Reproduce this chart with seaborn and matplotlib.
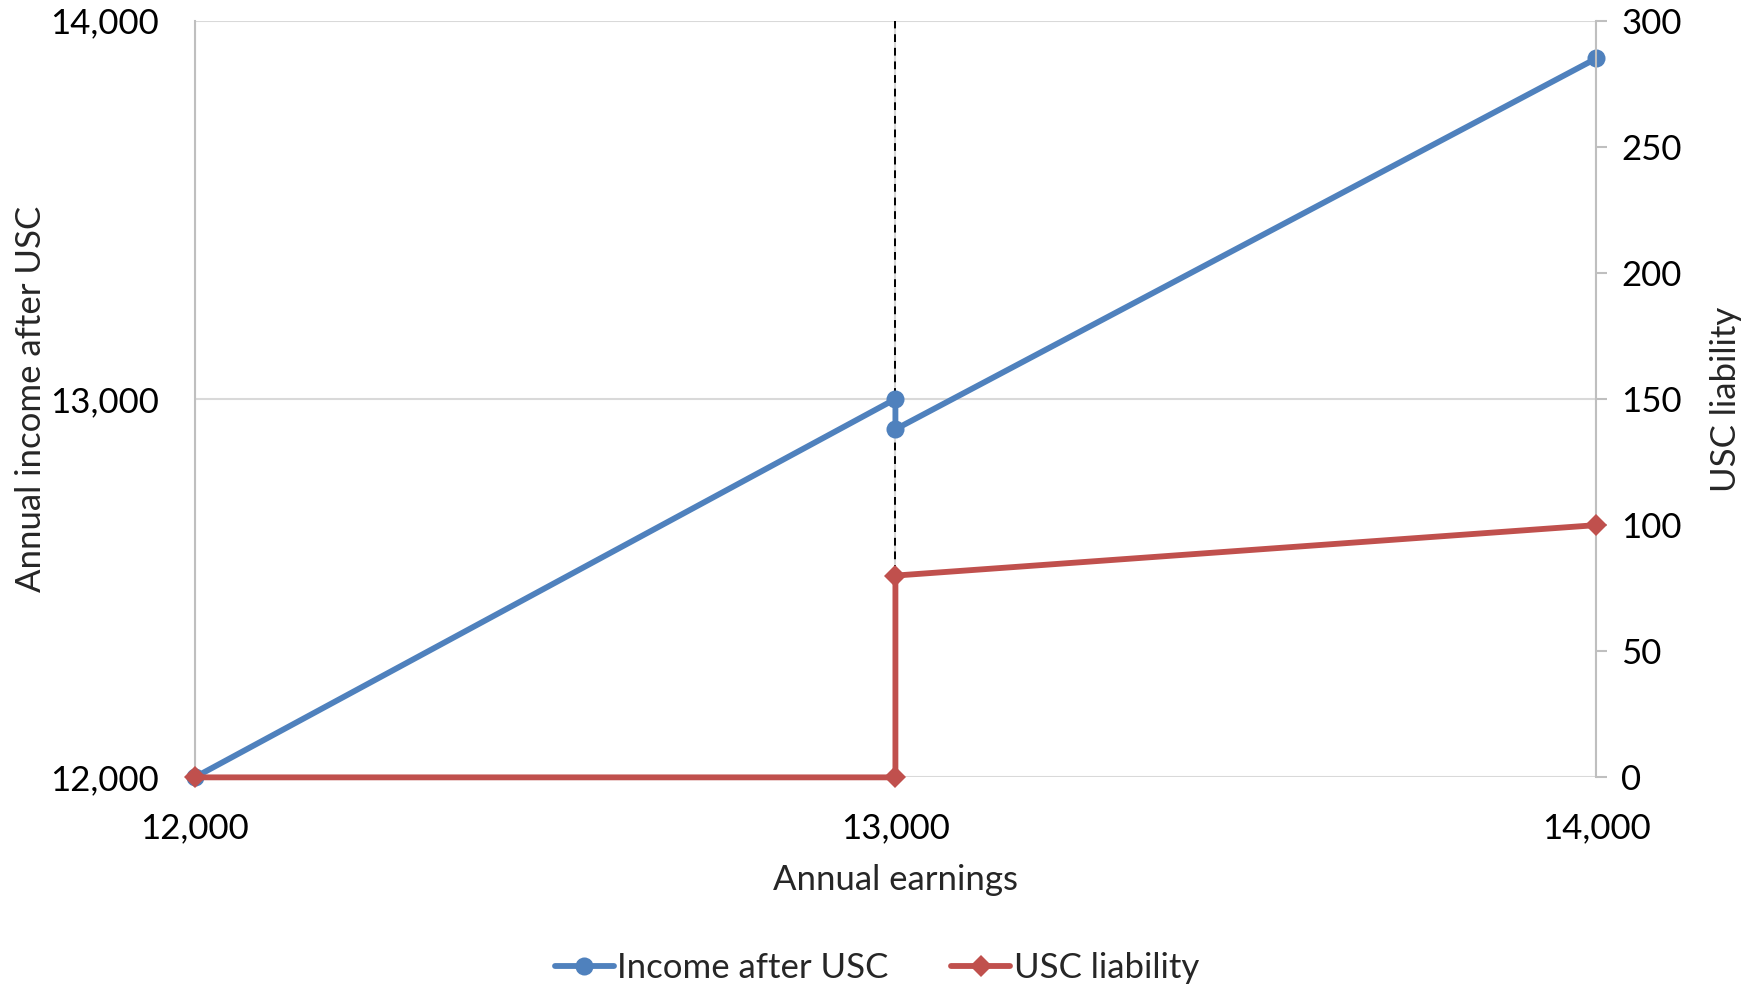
import matplotlib
matplotlib.use("Agg")
import matplotlib.pyplot as plt
import seaborn as sns
import pandas as pd
from matplotlib.ticker import FuncFormatter

# Earnings around the USC exemption threshold
earnings = [12000, 13000, 13000, 14000]
income_after_usc = [12000, 13000, 12920, 13900]
usc_liability = [0, 0, 80, 100]

x_ticks = [12000, 13000, 14000]
left_ticks = [12000, 13000, 14000]
right_ticks = [0, 50, 100, 150, 200, 250, 300]

blue = "#4F81BD"
red = "#C0504D"
grid_col = "#D9D9D9"
spine_col = "#BFBFBF"

sns.set_theme(style="white")
plt.rcParams["font.family"] = ["Lato", "DejaVu Sans"]

df = pd.DataFrame({"earnings": earnings, "income": income_after_usc, "usc": usc_liability})

fig, ax = plt.subplots(figsize=(17.54, 9.84), dpi=100)
fig.subplots_adjust(left=0.111, right=0.91, top=0.979, bottom=0.21)
ax2 = ax.twinx()

ax.axvline(13000, color="black", lw=1.4, ls=(0, (4, 3)), zorder=3)

sns.lineplot(data=df, x="earnings", y="income", ax=ax, sort=False, estimator=None,
             color=blue, lw=4.2, marker="o", markersize=13, markeredgewidth=0,
             zorder=4, clip_on=False, label="Income after USC", legend=False)
sns.lineplot(data=df, x="earnings", y="usc", ax=ax2, sort=False, estimator=None,
             color=red, lw=4.2, marker="D", markersize=11, markeredgewidth=0,
             zorder=4, clip_on=False, label="USC liability", legend=False)

ax.set_xlim(12000, 14000)
ax.set_ylim(12000, 14000)
ax2.set_ylim(0, 300)
ax.set_xticks(x_ticks)
ax.set_yticks(left_ticks)
ax2.set_yticks(right_ticks)

fmt = FuncFormatter(lambda v, p: f"{int(v):,}")
ax.xaxis.set_major_formatter(fmt)
ax.yaxis.set_major_formatter(fmt)

ax.grid(True, color=grid_col, lw=1.5)
ax.set_axisbelow(True)
ax2.grid(False)

for a in (ax, ax2):
    for side in ("top", "bottom"):
        a.spines[side].set_visible(False)
    a.spines["left"].set_color(spine_col)
    a.spines["right"].set_color(spine_col)
    a.spines["left"].set_linewidth(1.5)
    a.spines["right"].set_linewidth(1.5)
    a.patch.set_visible(False)
ax2.spines["left"].set_visible(False)
ax.spines["right"].set_visible(False)

ax.tick_params(axis="x", labelsize=25, length=0, pad=25, colors="black")
ax.tick_params(axis="y", labelsize=25, length=0, pad=26, colors="black")
ax2.tick_params(axis="y", labelsize=25, length=8, width=1.5, color=spine_col,
                pad=10, labelcolor="black", direction="out")

ax.set_xlabel("Annual earnings", fontsize=25, labelpad=14)
ax.set_ylabel("Annual income after USC", fontsize=25, labelpad=2)
ax2.set_ylabel("USC liability", fontsize=25, labelpad=20)

h1, l1 = ax.get_legend_handles_labels()
h2, l2 = ax2.get_legend_handles_labels()
fig.legend(h1 + h2, l1 + l2, loc="lower center", ncol=2, frameon=False,
           fontsize=25, bbox_to_anchor=(0.5, -0.032), handlelength=1.7,
           handletextpad=0.1, columnspacing=1.8)

fig.savefig("out.png", dpi=100)
